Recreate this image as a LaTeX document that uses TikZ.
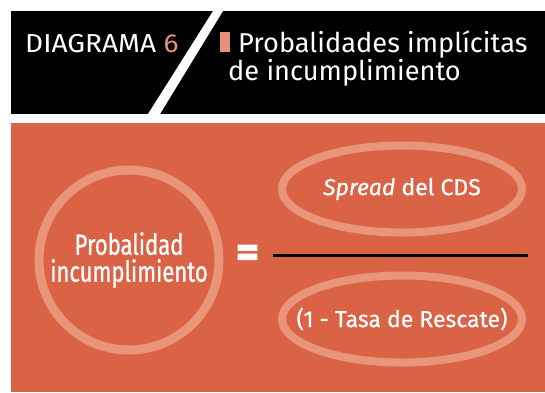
\documentclass[tikz,border=0pt]{standalone}
\usepackage{fontspec}
\setmainfont{Fira Sans}
\newfontfamily\narrowfont{Fira Sans}[FakeStretch=0.76, FakeBold=0.8]
\newfontfamily\bodyfont{Fira Sans}[FakeBold=0.6]
\newfontfamily\widefont{Fira Sans}[FakeStretch=1.08]
\newfontfamily\eqfont{Fira Sans}[FakeBold=2.5]
\usepackage{tikz}
\usetikzlibrary{positioning}
\usetikzlibrary{shapes.geometric}
\definecolor{bgorange}{HTML}{DA6346}
\definecolor{ringorange}{HTML}{E8957A}
\definecolor{accent}{HTML}{E8917A}

\begin{document}
\begin{tikzpicture}[x=1pt, y=-1pt,
    every node/.style = {inner sep=0pt, text=white},
      ring/.style = {circle, draw=ringorange, line width=9pt, minimum size=180pt},
      oval/.style = {ellipse, draw=ringorange, line width=8pt, minimum width=240pt, minimum height=87pt,
                     inner xsep=-40pt, font=\bodyfont\fontsize{23}{23}\selectfont},
      headtext/.style = {anchor=base west, font=\fontsize{27.2}{27.2}\selectfont}
    ]
    \useasboundingbox (0,0) rectangle (545,392);
    % header
    \fill[black] (11,11) rectangle (545,114);
    \fill[white] (213,11) -- (223,11) -- (160,114) -- (148,114) -- cycle;
    \fill[accent] (220,32) rectangle (230,52);
    \node[anchor=base west, font=\widefont\fontsize{26}{26}\selectfont] (diag) at (25,52) {DIAGRAMA \textcolor{accent}{6}};
    \node[headtext] (title1) at (238,52) {Probalidades implícitas};
    \node[headtext] (title2) at (228,80) {de incumplimiento};
    % body
    \fill[bgorange] (11,123) rectangle (545,392);
    \node[ring, align=center, font=\narrowfont\fontsize{29}{27}\selectfont] (prob) at (129,260) {Probalidad\\incumplimiento};
    \node[font=\eqfont\bfseries\fontsize{44}{44}\selectfont] (eq) at (247.5,256) {=};
    \node[oval] (spread) at (402,189) {\textit{Spread} del CDS};
    \node[oval] (rescate) at (402,319) {(1 - Tasa de Rescate)};
    \coordinate (fracL) at (273,255);
    \coordinate (fracR) at (528,255);
    \draw[line width=3pt] (fracL) -- (fracR);
    \end{tikzpicture}
\end{document}
